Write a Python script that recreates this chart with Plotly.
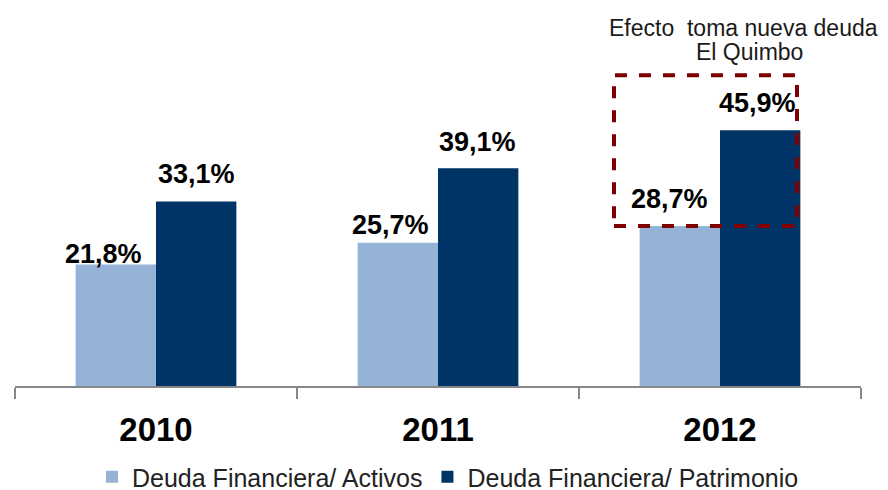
import plotly.graph_objects as go

years = ["2010", "2011", "2012"]
activos = [21.8, 25.7, 28.7]
patrimonio = [33.1, 39.1, 45.9]
activos_labels = ["21,8%", "25,7%", "28,7%"]
patrimonio_labels = ["33,1%", "39,1%", "45,9%"]
series_names = ["Deuda Financiera/ Activos", "Deuda Financiera/ Patrimonio"]
note_lines = ["Efecto  toma nueva deuda", "El Quimbo"]

LIGHT = "#95B3D7"
DARK = "#003366"
FONT = "Arial, Liberation Sans, sans-serif"

fig = go.Figure()
fig.add_trace(go.Bar(x=years, y=activos, name=series_names[0], marker_color=LIGHT,
                     marker_line_width=0))
fig.add_trace(go.Bar(x=years, y=patrimonio, name=series_names[1], marker_color=DARK,
                     marker_line_width=0))

# value labels (pixel offsets from the top of each bar's category position)
light_shift = [(-53, 11), (-48, 18), (-51, 27)]
dark_shift = [(40, 28), (39, 26), (37, 27)]
lab_font = dict(family=FONT, size=27, color="#000000", weight="bold")
for i, yr in enumerate(years):
    # category axes take the category index for annotation positions
    fig.add_annotation(x=i, y=activos[i], text=activos_labels[i], showarrow=False,
                       xshift=light_shift[i][0], yshift=light_shift[i][1], yanchor="middle",
                       font=lab_font)
    fig.add_annotation(x=i, y=patrimonio[i], text=patrimonio_labels[i], showarrow=False,
                       xshift=dark_shift[i][0], yshift=dark_shift[i][1], yanchor="middle",
                       font=lab_font)

# dashed highlight box around 2012 (paper coords along x)
fig.add_shape(type="rect", xref="paper", yref="y",
              x0=(614 - 15) / 846, x1=(797 - 15) / 846, y0=activos[2], y1=55.8,
              line=dict(color="#7F0000", width=4, dash="dash"), fillcolor="rgba(0,0,0,0)")

note_font = dict(family=FONT, size=23, color="#1a1a1a")
fig.add_annotation(xref="paper", yref="paper", x=(743 - 15) / 846, y=(386 - 28) / 366,
                   text=note_lines[0], showarrow=False, xanchor="center", yanchor="middle",
                   font=note_font)
fig.add_annotation(xref="paper", yref="paper", x=(749 - 15) / 846, y=(386 - 52) / 366,
                   text=note_lines[1], showarrow=False, xanchor="center", yanchor="middle",
                   font=note_font)

fig.update_layout(
    width=888, height=490,
    margin=dict(l=15, r=27, t=20, b=104, autoexpand=False),
    paper_bgcolor="white", plot_bgcolor="white",
    barmode="group", bargap=0.43, bargroupgap=0,
    showlegend=True,
    legend=dict(orientation="h", x=448 / 888, xref="container", xanchor="center",
                y=1 - 477 / 490, yref="container", yanchor="middle",
                font=dict(family=FONT, size=25, color="#222222"),
                itemwidth=30, traceorder="normal"),
    font=dict(family=FONT),
)
fig.update_xaxes(type="category", categoryorder="array", categoryarray=years,
                 range=[-0.5, len(years) - 0.5], autorange=False,
                 showline=True, linecolor="#888888", linewidth=1.5,
                 ticks="outside", tickson="boundaries", ticklen=11, tickcolor="#888888",
                 tickwidth=1.5, ticklabelstandoff=14,
                 tickfont=dict(family=FONT, size=33, color="#000000", weight="bold"),
                 showgrid=False)
fig.update_yaxes(range=[0, 65.7], visible=False, showgrid=False, zeroline=False)

fig.write_html("out.html", config={"displayModeBar": False},
               post_script="document.body.style.margin='0';")
